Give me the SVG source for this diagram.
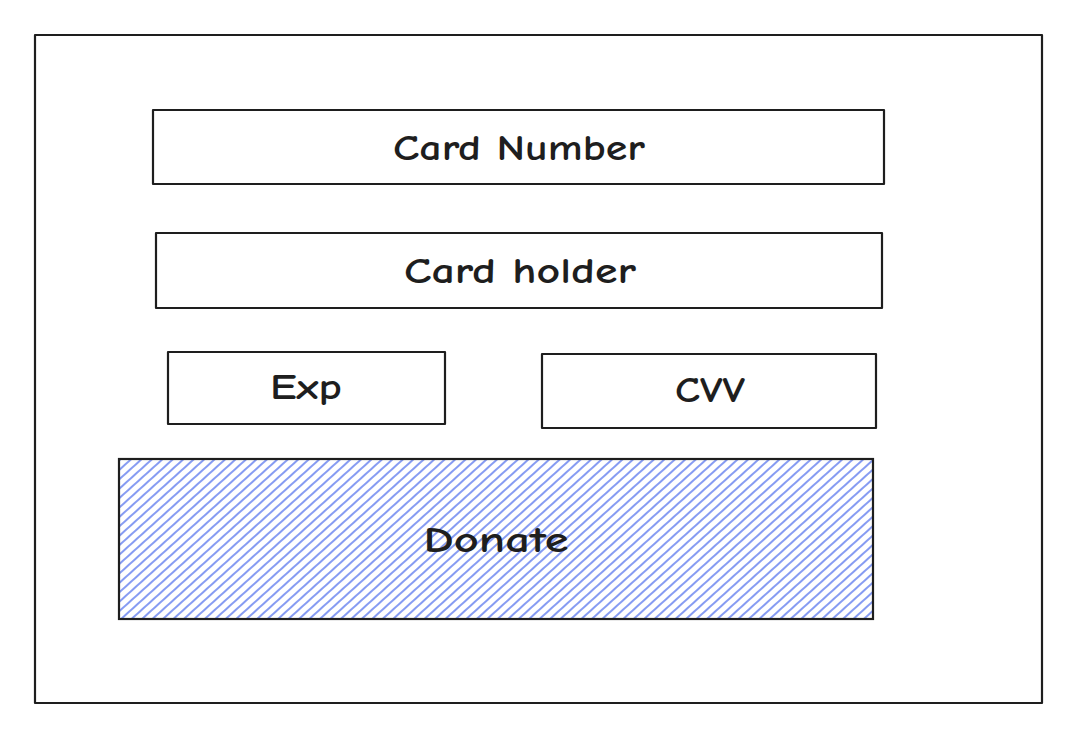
<svg xmlns="http://www.w3.org/2000/svg" width="1080" height="737" viewBox="0 0 1080 737">
<defs>
<pattern id="hatch" width="7" height="20" patternUnits="userSpaceOnUse" patternTransform="rotate(48)">
<line x1="2" y1="0" x2="2" y2="20" stroke="#5874ee" stroke-width="1.8" stroke-opacity="0.8"/>
</pattern>
<style>
.box{fill:#ffffff;stroke:#1e1e1e;stroke-width:2.2;stroke-linejoin:round}
.lbl{font-family:"Comic Neue","Liberation Sans",sans-serif;font-size:36px;font-weight:bold;fill:#1e1e1e;text-anchor:middle}
</style>
</defs>
<rect width="1080" height="737" fill="#ffffff"/>
<g id="frame"><rect class="box" x="35" y="35" width="1007" height="668"/></g>
<g id="card-number"><rect class="box" x="153" y="110" width="731" height="74"/><text class="lbl" x="519" y="160" textLength="252" lengthAdjust="spacingAndGlyphs">Card Number</text></g>
<g id="card-holder"><rect class="box" x="156" y="233" width="726" height="75"/><text class="lbl" x="520" y="283" textLength="232" lengthAdjust="spacingAndGlyphs">Card holder</text></g>
<g id="exp"><rect class="box" x="168" y="352" width="277" height="72"/><text class="lbl" x="306" y="399" textLength="72" lengthAdjust="spacingAndGlyphs">Exp</text></g>
<g id="cvv"><rect class="box" x="542" y="354" width="334" height="74"/><text class="lbl" x="710" y="402" textLength="70" lengthAdjust="spacingAndGlyphs">CVV</text></g>
<g id="donate"><rect x="119" y="459" width="754" height="160" fill="url(#hatch)" stroke="#1e1e1e" stroke-width="2.2"/><text class="lbl" x="496" y="552" textLength="145" lengthAdjust="spacingAndGlyphs">Donate</text></g>
<g id="connectors"/>
</svg>
